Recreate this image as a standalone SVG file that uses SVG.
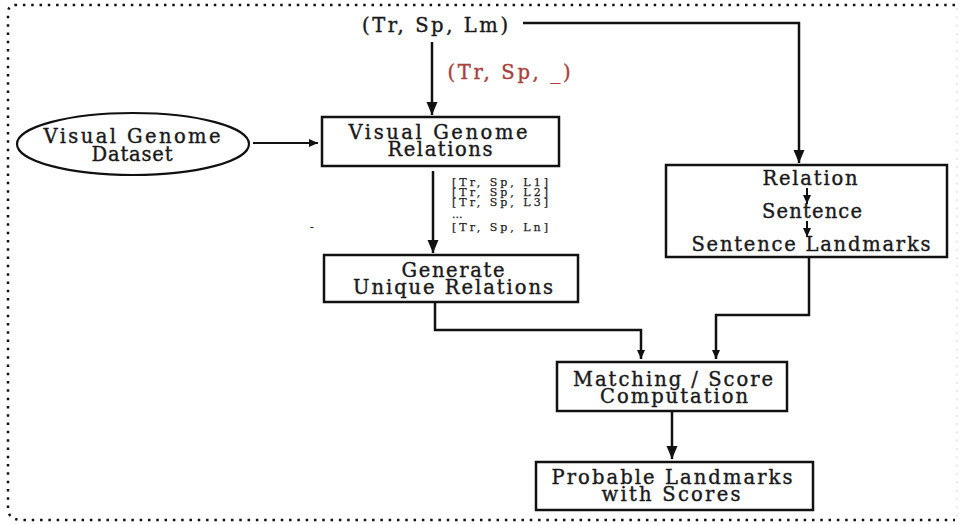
<svg xmlns="http://www.w3.org/2000/svg" width="961" height="524" viewBox="0 0 961 524">
<style>
.box{fill:#fff;stroke:#111;stroke-width:2.5}
.t{font-family:"DejaVu Serif","Liberation Serif",serif;font-size:19.5px;fill:#1a1a1a;stroke:#1a1a1a;stroke-width:0.4;text-anchor:middle}
.s{font-family:"DejaVu Serif","Liberation Serif",serif;font-size:11px;fill:#222;stroke:#222;stroke-width:0.25}
.red{fill:#a8423c;stroke:#a8423c}
.c{fill:none;stroke:#111;stroke-width:2.5}
.c2{fill:none;stroke:#111;stroke-width:2}
</style>
<defs>
<marker id="ah" markerUnits="userSpaceOnUse" markerWidth="14" markerHeight="14" viewBox="0 0 14 14" refX="13" refY="7" orient="auto">
<path d="M0,1.5 L13,7 L0,12.5 Z" fill="#111"/>
</marker>
<marker id="ahs" markerUnits="userSpaceOnUse" markerWidth="10" markerHeight="10" viewBox="0 0 10 10" refX="9" refY="5" orient="auto">
<path d="M0,1 L9,5 L0,9 Z" fill="#111"/>
</marker>
</defs>
<rect width="961" height="524" fill="#fff"/>
<path d="M955,5 L16,5 Q8,5 8,13 L8,508 Q8,520 22,520 L955,520" fill="none" stroke="#111" stroke-width="2.5" stroke-dasharray="2.5 5.8"/>
<path d="M957,8 L957,517" fill="none" stroke="#e6e6e6" stroke-width="1.5" stroke-dasharray="2.5 5.8"/>
<g id="connectors">
<path class="c" d="M523,23 L799,23 L799,163" marker-end="url(#ah)"/>
<path class="c" d="M432,42 L432,115" marker-end="url(#ah)"/>
<path class="c2" d="M253,143 L318,143" marker-end="url(#ahs)"/>
<path class="c" d="M433,171 L433,253" marker-end="url(#ah)"/>
<path class="c" d="M435,303 L435,330 L641,330 L641,359" marker-end="url(#ahs)"/>
<path class="c" d="M809,258 L809,315 L716,315 L716,359" marker-end="url(#ahs)"/>
<path class="c" d="M672,411 L672,459" marker-end="url(#ah)"/>
</g>
<g id="label-top">
<text class="t" x="435" y="32" textLength="146" lengthAdjust="spacing">(Tr, Sp, Lm)</text>
</g>
<g id="label-red">
<text class="t red" x="509" y="79" textLength="123" lengthAdjust="spacing">(Tr, Sp, _)</text>
</g>
<g id="label-list">
<text class="s" x="452" y="186" textLength="96" lengthAdjust="spacing">[Tr, Sp, L1]</text>
<text class="s" x="452" y="196" textLength="96" lengthAdjust="spacing">[Tr, Sp, L2]</text>
<text class="s" x="452" y="206" textLength="96" lengthAdjust="spacing">[Tr, Sp, L3]</text>
<text class="s" x="452" y="218">...</text>
<text class="s" x="452" y="231" textLength="96" lengthAdjust="spacing">[Tr, Sp, Ln]</text>
<text class="s" x="310" y="231">-</text>
</g>
<g id="vg-dataset">
<ellipse cx="133" cy="144" rx="116" ry="31" fill="#fff" stroke="#111" stroke-width="2.2"/>
<text class="t" x="132" y="143" textLength="177" lengthAdjust="spacing">Visual Genome</text>
<text class="t" x="132" y="161" textLength="81" lengthAdjust="spacing">Dataset</text>
</g>
<g id="vg-relations">
<rect class="box" x="322" y="117" width="237" height="49"/>
<text class="t" x="438" y="139" textLength="179" lengthAdjust="spacing">Visual Genome</text>
<text class="t" x="440" y="156" textLength="105" lengthAdjust="spacing">Relations</text>
</g>
<g id="generate">
<rect class="box" x="324" y="255" width="254" height="47"/>
<text class="t" x="453" y="277" textLength="103" lengthAdjust="spacing">Generate</text>
<text class="t" x="453" y="294" textLength="200" lengthAdjust="spacing">Unique Relations</text>
</g>
<g id="relation-box">
<rect class="box" x="666" y="165" width="281" height="92"/>
<text class="t" x="810" y="185" textLength="95" lengthAdjust="spacing">Relation</text>
<path class="c2" d="M807,188 L807,204" marker-end="url(#ahs)"/>
<text class="t" x="812" y="218" textLength="100" lengthAdjust="spacing">Sentence</text>
<path class="c2" d="M807,221 L807,237" marker-end="url(#ahs)"/>
<text class="t" x="811" y="251" textLength="239" lengthAdjust="spacing">Sentence Landmarks</text>
</g>
<g id="matching">
<rect class="box" x="557" y="362" width="230" height="49"/>
<text class="t" x="673" y="386" textLength="200" lengthAdjust="spacing">Matching / Score</text>
<text class="t" x="674" y="403" textLength="148" lengthAdjust="spacing">Computation</text>
</g>
<g id="probable">
<rect class="box" x="536" y="462" width="277" height="48"/>
<text class="t" x="672" y="484" textLength="241" lengthAdjust="spacing">Probable Landmarks</text>
<text class="t" x="671" y="501" textLength="139" lengthAdjust="spacing">with Scores</text>
</g>
</svg>
